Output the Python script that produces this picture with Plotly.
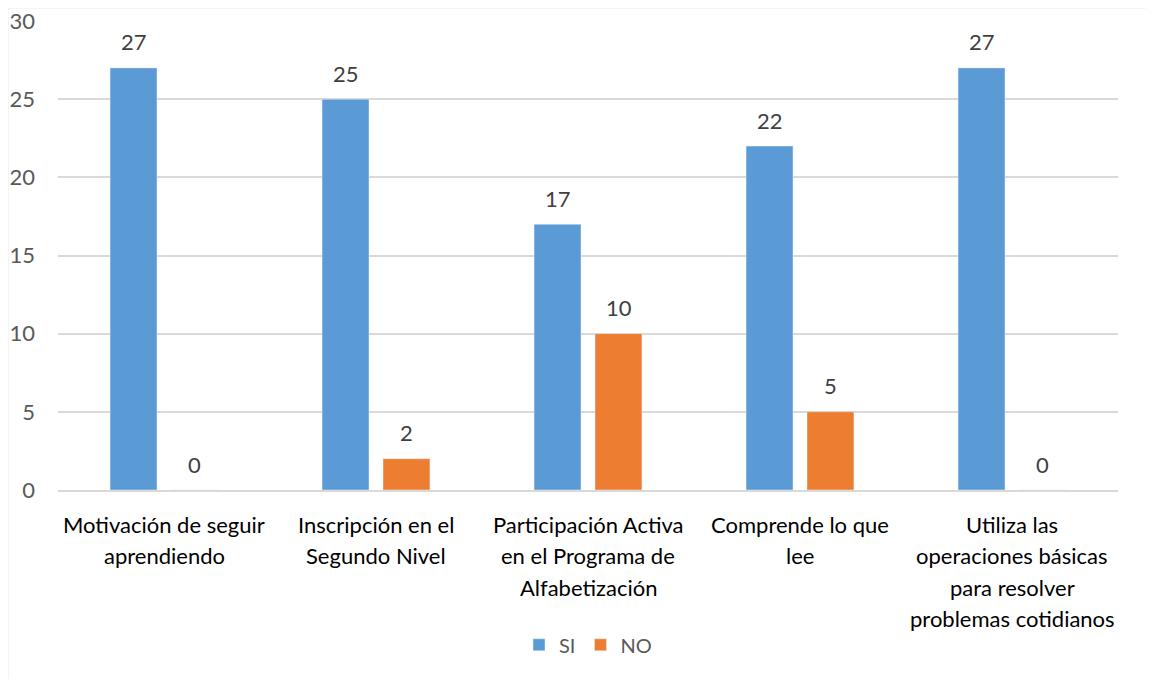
import plotly.graph_objects as go

categories = [
    "Motivación de seguir<br>aprendiendo",
    "Inscripción en el<br>Segundo Nivel",
    "Participación Activa<br>en el Programa de<br>Alfabetización",
    "Comprende lo que<br>lee",
    "Utiliza las<br>operaciones básicas<br>para resolver<br>problemas cotidianos",
]
si_values = [27, 25, 17, 22, 27]
no_values = [0, 2, 10, 5, 0]
y_ticks = [0, 5, 10, 15, 20, 25, 30]

FONT = "Lato"
BLUE = "#5B9BD5"
ORANGE = "#ED7D31"

fig = go.Figure()
fig.add_trace(go.Bar(name="SI", x=categories, y=si_values, marker_color=BLUE))
fig.add_trace(go.Bar(name="NO", x=categories, y=no_values, marker_color=ORANGE))

annotations = []
# data labels
for vals, shift in ((si_values, -30.5), (no_values, 30.5)):
    for c, v in zip(categories, vals):
        annotations.append(dict(
            x=c, y=v, xref="x", yref="y", text=str(v), showarrow=False,
            xshift=shift, yshift=26, yanchor="middle",
            font=dict(family=FONT, size=22, color="#404040"),
        ))
# category labels, one annotation per line for Excel-like line spacing
for c in categories:
    for i, line in enumerate(c.split("<br>")):
        annotations.append(dict(
            x=c, y=0, xref="x", yref="y", text=line, showarrow=False,
            yshift=-(34 + i * 31.5), yanchor="middle",
            font=dict(family=FONT, size=22, color="#000000"),
        ))

fig.update_layout(
    width=1146, height=671,
    margin=dict(l=50, r=36, t=13, b=189),
    paper_bgcolor="white", plot_bgcolor="white",
    barmode="group", bargap=0.425, bargroupgap=0.23,
    showlegend=True,
    legend=dict(orientation="h", x=0.5, xanchor="center", y=-0.33, yanchor="middle",
                font=dict(family=FONT, size=20, color="#595959"),
                itemwidth=30, traceorder="normal"),
    annotations=annotations,
    shapes=[dict(type="rect", xref="paper", yref="paper",
                 x0=-0.0476, x1=1.3, y0=-0.6, y1=1.0288,
                 line=dict(color="#d9d9d9", width=1.5), layer="below")],
    font=dict(family=FONT),
)
fig.update_xaxes(showticklabels=False, showline=True, linecolor="#d9d9d9", linewidth=1.5,
                 ticks="", showgrid=False, automargin=False)
fig.update_yaxes(range=[0, 30], tickvals=y_ticks, showgrid=True, gridcolor="#d9d9d9",
                 gridwidth=1.5, zeroline=False, showline=False, ticks="",
                 ticklabelstandoff=22, ticklabeloverflow="allow", automargin=False,
                 tickfont=dict(family=FONT, size=22, color="#595959"))

fig.write_html("out.html")
